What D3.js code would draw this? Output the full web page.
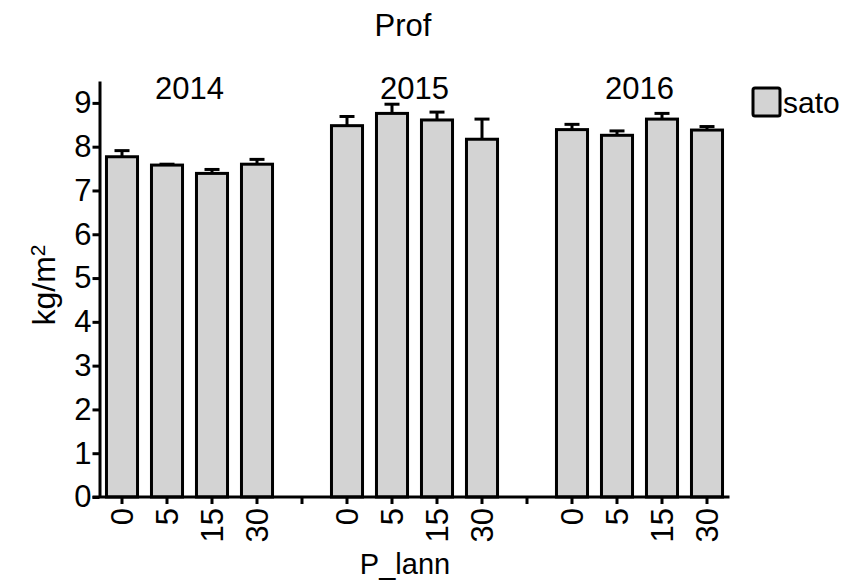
<!DOCTYPE html>
<html>
<head>
<meta charset="UTF-8">
<title>Prof</title>
<script src="https://d3js.org/d3.v7.min.js"></script>
<style>
    body { margin: 0; background: #fff; }
    text { font-family: "Liberation Sans", Arial, sans-serif; fill: #000; }
    .axis path, .axis line { stroke: #000; stroke-width: 3px; fill: none; }
    .axis text { font-size: 31px; font-family: "Liberation Sans", Arial, sans-serif; }
    .bar { fill: #d3d3d3; stroke: #000; stroke-width: 3px; }
    .err { stroke: #000; stroke-width: 3px; fill: none; }
</style>
</head>
<body>
<script>
var years = ["2014", "2015", "2016"];
var doses = ["0", "5", "15", "30"];
// mean and standard error, one array per year
var means = {
    "2014": [7.77, 7.58, 7.39, 7.60],
    "2015": [8.48, 8.76, 8.61, 8.17],
    "2016": [8.39, 8.26, 8.63, 8.38]
};
var errs = {
    "2014": [0.14, 0.02, 0.09, 0.11],
    "2015": [0.21, 0.21, 0.18, 0.46],
    "2016": [0.12, 0.10, 0.13, 0.08]
};
var yTicks = [0, 1, 2, 3, 4, 5, 6, 7, 8, 9];

var width = 858, height = 584;
var margin = {top: 81, left: 99.5, right: 128.5, bottom: 87};

// slots: 4 doses per year, one empty slot between years
var slots = [];
var data = [];
years.forEach(function (y, i) {
    if (i > 0) slots.push("gap" + i);
    doses.forEach(function (d, j) {
        var key = y + "-" + d;
        slots.push(key);
        data.push({key: key, year: y, dose: d, mean: means[y][j], se: errs[y][j]});
    });
});

var x = d3.scaleBand()
    .domain(slots)
    .range([margin.left, width - margin.right])
    .paddingInner(0.31)
    .paddingOuter(0.155);

var y = d3.scaleLinear()
    .domain([0, 9.5])
    .range([height - margin.bottom, margin.top]);

var svg = d3.select("body").append("svg")
    .attr("width", width)
    .attr("height", height);

// bars
svg.selectAll(".bar")
    .data(data)
    .enter().append("rect")
    .attr("class", "bar")
    .attr("x", function (d) { return x(d.key); })
    .attr("width", x.bandwidth())
    .attr("y", function (d) { return y(d.mean); })
    .attr("height", function (d) { return y(0) - y(d.mean); });

// upper error bars
var eb = svg.selectAll(".eb")
    .data(data)
    .enter().append("g")
    .attr("class", "eb");
eb.append("line")
    .attr("class", "err")
    .attr("x1", function (d) { return x(d.key) + x.bandwidth() / 2; })
    .attr("x2", function (d) { return x(d.key) + x.bandwidth() / 2; })
    .attr("y1", function (d) { return y(d.mean); })
    .attr("y2", function (d) { return y(d.mean + d.se); });
eb.append("line")
    .attr("class", "err")
    .attr("x1", function (d) { return x(d.key) + x.bandwidth() / 2 - 7.5; })
    .attr("x2", function (d) { return x(d.key) + x.bandwidth() / 2 + 7.5; })
    .attr("y1", function (d) { return y(d.mean + d.se); })
    .attr("y2", function (d) { return y(d.mean + d.se); });

// x axis
var xAxis = svg.append("g")
    .attr("class", "axis x")
    .attr("transform", "translate(0," + y(0) + ")")
    .call(d3.axisBottom(x)
        .tickSize(7)
        .tickSizeOuter(0)
        .tickFormat(function (k) { return k.indexOf("gap") === 0 ? "" : k.split("-")[1]; }));
xAxis.select(".domain").attr("d", "M" + (margin.left - 7) + ",0H" + (width - margin.right));
xAxis.selectAll(".tick text")
    .attr("transform", "rotate(-90)")
    .attr("text-anchor", "end")
    .attr("x", -11)
    .attr("y", 0)
    .attr("dy", "0.36em");

// y axis
svg.append("g")
    .attr("class", "axis y")
    .attr("transform", "translate(" + margin.left + ",0)")
    .call(d3.axisLeft(y)
        .tickValues(yTicks)
        .tickSize(7)
        .tickSizeOuter(0)
        .tickPadding(1));

// year labels
svg.selectAll(".year")
    .data(years)
    .enter().append("text")
    .attr("class", "year")
    .attr("x", function (yr) {
        return (x(yr + "-0") + x(yr + "-30") + x.bandwidth()) / 2;
    })
    .attr("y", 99)
    .attr("text-anchor", "middle")
    .style("font-size", "31px")
    .text(function (yr) { return yr; });

// title
svg.append("text")
    .attr("x", 403)
    .attr("y", 36)
    .attr("text-anchor", "middle")
    .style("font-size", "31px")
    .text("Prof");

// axis titles
svg.append("text")
    .attr("x", 405)
    .attr("y", 574)
    .attr("text-anchor", "middle")
    .style("font-size", "29px")
    .text("P_lann");

var yl = svg.append("text")
    .attr("transform", "translate(55,285) rotate(-90)")
    .attr("text-anchor", "middle")
    .style("font-size", "32px");
yl.append("tspan").text("kg/m");
yl.append("tspan").attr("dy", "-0.5em").style("font-size", "21px").text("2");

// legend
var lg = svg.append("g").attr("transform", "translate(753,88)");
lg.append("rect")
    .attr("width", 27)
    .attr("height", 28)
    .attr("rx", 2)
    .attr("fill", "#d3d3d3")
    .attr("stroke", "#000")
    .attr("stroke-width", 3);
lg.append("text")
    .attr("x", 30)
    .attr("y", 25)
    .style("font-size", "30px")
    .text("sato");
</script>
</body>
</html>
